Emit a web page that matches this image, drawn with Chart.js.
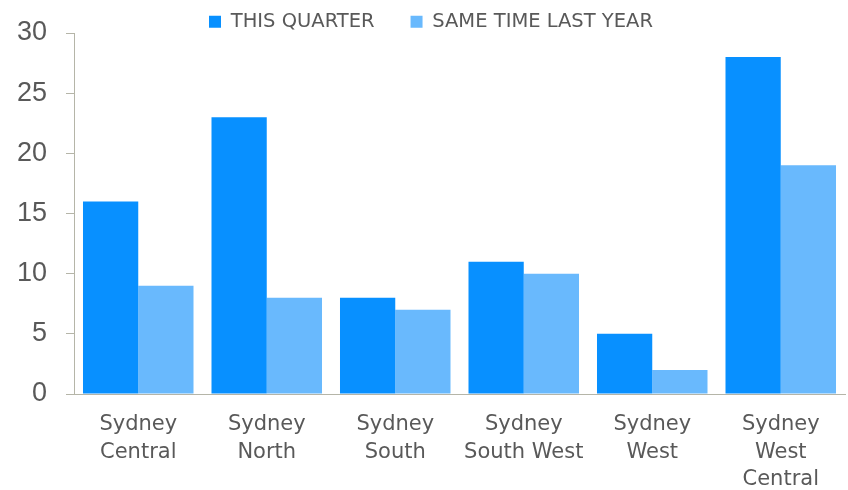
<!DOCTYPE html>
<html><head><meta charset="utf-8">
<script src="https://cdn.jsdelivr.net/npm/chart.js@4/dist/chart.umd.min.js"></script>
<style>html,body{margin:0;padding:0;background:#fff}#wrap{width:848px;height:490px}</style>
</head><body><div id="wrap"><canvas id="c" width="848" height="490"></canvas></div>
<script>
const categories = [["Sydney","Central"],["Sydney","North"],["Sydney","South"],["Sydney","South West"],["Sydney","West"],["Sydney","West","Central"]];
const thisQuarter = [16, 23, 8, 11, 5, 28];
const lastYear = [9, 8, 7, 10, 2, 19];
const seriesNames = ["THIS QUARTER", "SAME TIME LAST YEAR"];
const yTicks = {min: 0, max: 30, step: 5};
const FONT = "'DejaVu Sans', sans-serif";
const NUMFONT = "'Liberation Sans', Arial, sans-serif";
const LEG_TOP = -24;
const legendFit = {
  id: 'legendFit',
  beforeLayout(chart) {
    const lg = chart.legend;
    if (lg && !lg._patched) {
      const f = lg.fit;
      lg.fit = function () { f.call(this); this.height = 33 - LEG_TOP; };
      lg._patched = true;
    }
  }
};
new Chart(document.getElementById('c'), {
  type: 'bar',
  data: {
    labels: categories,
    datasets: [
      {label: seriesNames[0], data: thisQuarter, backgroundColor: '#0890ff'},
      {label: seriesNames[1], data: lastYear, backgroundColor: '#69b9fd'}
    ]
  },
  plugins: [legendFit],
  options: {
    responsive: false, animation: false,
    layout: {padding: {left: 17, right: 3, top: LEG_TOP, bottom: 0}},
    datasets: {bar: {categoryPercentage: 0.86, barPercentage: 1.0}},
    plugins: {
      tooltip: {enabled: false},
      legend: {position: 'top', labels: {boxWidth: 12, boxHeight: 12, padding: 36, color: '#595959', font: {family: FONT, size: 19.5}}}
    },
    scales: {
      x: {
        afterFit: (s) => { s.height = 96; },
        grid: {display: false},
        border: {display: true, color: '#b5b5a8', width: 1},
        ticks: {color: '#595959', font: {family: FONT, size: 21, lineHeight: 1.31}, padding: 9, maxRotation: 0, autoSkip: false}
      },
      y: {
        min: yTicks.min, max: yTicks.max,
        afterFit: (s) => { s.width = 57; s.paddingTop = 0; s.paddingBottom = 0; },
        grid: {drawOnChartArea: false, drawTicks: true, tickLength: 8, color: '#b5b5a8'},
        border: {display: true, color: '#b5b5a8', width: 1},
        ticks: {stepSize: yTicks.step, color: '#595959', font: {family: NUMFONT, size: 27}, padding: 19}
      }
    }
  }
});
</script></body></html>
